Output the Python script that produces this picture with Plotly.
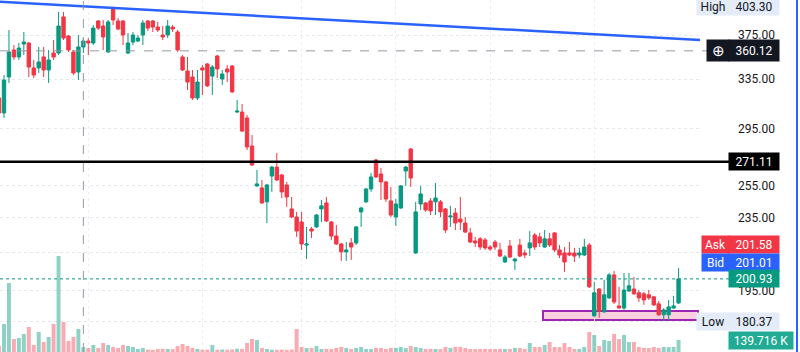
import math
import plotly.graph_objects as go

# ---------------- data ----------------
bar_index = list(range(-1, 137))

open_ = [319.2, 307.2, 336.8, 360.9, 354.5, 366.4, 367.4, 344.7, 344.7, 354.5,
         342.9, 358.1, 358.1, 392.7, 374.0, 359.1, 341.1, 363.7, 369.3, 367.4,
         388.7, 383.7, 359.1, 401.8, 388.7, 388.7, 358.1, 368.3, 369.3, 375.0,
         388.7, 388.7, 382.7, 375.0, 375.0, 382.7, 377.9, 354.5, 342.0, 336.8,
         319.2, 344.7, 348.2, 337.6, 355.4, 335.1, 343.8, 346.4, 307.9, 307.9,
         303.3, 282.3, 254.9, 253.6, 244.7, 261.4, 267.5, 262.1, 255.5, 240.3,
         235.4, 232.4, 219.1, 228.3, 229.5, 240.3, 244.0, 232.4, 224.2, 219.7,
         215.3, 220.3, 220.3, 238.5, 244.7, 252.9, 272.4, 262.8, 257.5, 245.3,
         235.4, 240.9, 264.8, 280.1, 214.7, 243.4, 244.0, 245.3, 244.7, 244.7,
         240.3, 235.4, 237.8, 234.2, 231.8, 226.0, 221.4, 222.6, 222.0, 218.0,
         220.8, 216.4, 209.8, 218.6, 210.4, 219.1, 214.7, 217.5, 224.8, 223.7,
         218.0, 222.6, 226.0, 216.4, 214.7, 214.7, 214.7, 213.6, 213.6, 219.1,
         182.8, 195.8, 184.7, 191.4, 203.0, 187.5, 186.5, 194.8, 195.8, 193.9,
         193.4, 192.9, 191.9, 188.5, 183.3, 183.3, 186.5, 188.9]

high = [325.8, 338.5, 379.8, 365.5, 367.4, 377.9, 368.3, 351.8, 363.7, 363.7,
        360.9, 370.2, 397.8, 397.8, 375.0, 360.9, 375.0, 372.1, 372.1, 384.7,
        389.7, 389.7, 389.7, 403.3, 391.7, 389.7, 376.9, 377.9, 375.0, 389.7,
        389.7, 389.7, 387.7, 383.7, 389.7, 384.7, 379.8, 356.3, 354.5, 342.9,
        342.9, 347.3, 349.1, 347.3, 356.3, 342.9, 347.3, 347.3, 317.6, 314.3,
        305.6, 290.3, 265.5, 258.8, 256.2, 268.2, 277.3, 262.8, 257.5, 247.8,
        238.5, 238.5, 229.5, 229.5, 237.2, 245.9, 247.8, 233.0, 230.7, 220.3,
        220.8, 223.1, 230.1, 241.6, 253.6, 263.5, 273.1, 266.9, 258.1, 254.2,
        246.5, 255.5, 268.2, 280.8, 244.7, 254.9, 244.7, 247.1, 256.8, 245.9,
        240.9, 242.2, 240.9, 247.8, 235.4, 228.9, 223.7, 223.7, 223.1, 219.1,
        222.0, 220.3, 213.6, 222.0, 211.9, 222.6, 216.4, 227.1, 226.0, 226.0,
        227.7, 226.0, 226.5, 219.1, 218.0, 220.8, 217.5, 217.5, 222.6, 220.3,
        199.4, 196.3, 200.4, 204.0, 205.1, 196.9, 204.0, 204.0, 202.0, 195.3,
        194.3, 195.3, 192.4, 189.9, 186.5, 190.4, 192.4, 206.6]

low = [303.3, 303.3, 331.7, 351.8, 351.8, 356.3, 336.8, 335.9, 340.3, 336.8,
       331.7, 351.8, 356.3, 370.2, 359.1, 338.5, 334.2, 358.1, 356.3, 365.5,
       379.8, 360.9, 358.1, 384.7, 379.8, 365.5, 357.2, 365.5, 368.3, 365.5,
       378.8, 377.9, 377.9, 370.2, 372.1, 377.9, 359.1, 342.0, 325.8, 317.6,
       317.6, 321.7, 328.3, 321.7, 335.9, 330.0, 332.5, 323.3, 307.2, 292.6,
       279.4, 268.2, 254.2, 243.4, 231.8, 251.0, 258.1, 247.1, 241.6, 234.8,
       223.7, 216.4, 211.4, 223.1, 228.9, 232.4, 232.4, 222.0, 219.1, 210.4,
       210.4, 210.9, 219.1, 229.5, 244.0, 251.0, 260.1, 245.9, 244.7, 235.4,
       230.1, 240.3, 254.9, 254.2, 214.2, 239.7, 238.5, 236.6, 236.6, 235.4,
       226.0, 229.5, 227.7, 227.7, 226.0, 220.3, 218.0, 216.4, 216.4, 215.8,
       216.4, 212.5, 209.3, 211.9, 205.6, 212.5, 211.9, 213.0, 216.4, 218.0,
       217.5, 218.0, 215.3, 211.9, 204.6, 213.0, 209.8, 211.9, 213.0, 196.3,
       182.4, 181.9, 184.2, 190.9, 188.5, 186.1, 185.6, 194.3, 192.9, 189.4,
       188.0, 190.4, 187.5, 182.8, 180.37, 180.9, 186.1, 188.5]

close = [307.2, 334.2, 359.1, 354.5, 362.7, 368.3, 345.5, 338.5, 350.0, 342.9,
         351.8, 354.5, 383.7, 372.1, 360.9, 340.3, 363.7, 369.3, 367.4, 381.7,
         381.7, 373.1, 387.7, 389.7, 380.8, 375.0, 367.4, 375.0, 372.1, 386.7,
         381.7, 382.7, 379.8, 373.1, 383.7, 380.8, 360.9, 342.9, 332.5, 319.2,
         332.5, 342.9, 329.2, 345.5, 343.8, 339.4, 341.1, 324.2, 308.7, 293.3,
         281.6, 268.9, 256.2, 244.0, 255.5, 267.5, 258.8, 251.0, 247.8, 235.4,
         227.1, 219.7, 219.7, 227.1, 236.6, 242.2, 233.0, 224.2, 219.7, 215.3,
         216.4, 218.0, 229.5, 240.9, 252.9, 260.8, 260.8, 257.5, 246.5, 236.6,
         243.4, 254.9, 267.5, 260.1, 238.5, 249.7, 239.7, 239.1, 247.1, 238.5,
         227.7, 236.0, 231.8, 232.4, 226.5, 220.8, 220.3, 218.0, 217.5, 216.9,
         218.0, 213.0, 212.5, 212.5, 211.4, 213.0, 213.6, 220.3, 218.0, 220.3,
         222.6, 219.1, 216.4, 213.6, 209.8, 213.6, 213.0, 214.7, 218.0, 196.9,
         193.9, 185.1, 192.9, 203.0, 189.4, 186.5, 195.3, 197.4, 193.4, 191.4,
         190.4, 191.4, 188.0, 183.3, 185.6, 187.0, 187.5, 200.93]

volume_k = [70, 326, 803, 151, 163, 210, 291, 82, 233, 116,
            175, 326, 1118, 349, 128, 175, 268, 58, 47, 82,
            47, 105, 82, 58, 47, 82, 70, 58, 35, 47,
            28, 26, 35, 38, 35, 33, 70, 93, 70, 47,
            35, 27, 28, 82, 26, 29, 27, 30, 38, 36,
            105, 151, 140, 47, 35, 27, 26, 28, 25, 29,
            268, 58, 47, 46, 70, 35, 36, 35, 47, 58,
            47, 35, 47, 58, 35, 34, 47, 46, 35, 47,
            48, 58, 47, 70, 58, 47, 35, 36, 35, 34,
            58, 47, 58, 60, 47, 35, 34, 36, 35, 33,
            35, 36, 34, 35, 47, 46, 35, 105, 58, 58,
            82, 116, 58, 57, 105, 58, 35, 36, 58, 233,
            198, 70, 140, 128, 210, 151, 198, 116, 116, 58,
            47, 46, 58, 47, 58, 57, 58, 139.716]

price_ticks = [375, 335, 295, 255, 235, 215, 195, 180]
price_tick_text = ["375.00", "335.00", "295.00", "255.00", "235.00", "", "195.00", ""]
month_bars = [17, 40, 60, 79, 98, 119]

trend_x = [-0.806, 140.32]
trend_y = [408.3, 370.2]

resistance = 271.11
cross_price = 360.12
cross_bar = 16
last_price = 200.93
ask_price = 201.58
bid_price = 201.01
high_price = 403.30
low_price = 180.37
last_volume_k = 139.716
zone_x = [108.67, 139.92]
zone_y = [180.9, 185.1]

# ---------------- styling ----------------
GREEN = "#089981"
RED = "#f23645"
BLUE = "#2962ff"
DARK = "#131722"
PALE = "#e3ecf8"
FONT = "Roboto"

x_range = [-0.806, 140.32]
y_range = [2.221809, 2.612920]
PLOT_W = 700.0

vol_colors = ["rgba(8,153,129,0.45)" if c >= o else "rgba(242,54,69,0.42)"
              for o, c in zip(open_, close)]

fig = go.Figure()

fig.add_trace(go.Bar(
    x=bar_index, y=volume_k, marker=dict(color=vol_colors, line=dict(width=0)),
    width=0.8, yaxis="y2", hoverinfo="skip"))

fig.add_trace(go.Candlestick(
    x=bar_index, open=open_, high=high, low=low, close=close,
    increasing=dict(line=dict(color=GREEN, width=1), fillcolor=GREEN),
    decreasing=dict(line=dict(color=RED, width=1), fillcolor=RED),
    whiskerwidth=0, hoverinfo="skip"))

fig.add_trace(go.Scatter(
    x=trend_x, y=trend_y, mode="lines",
    line=dict(color=BLUE, width=2.5), hoverinfo="skip"))


def px_x(p):
    return p / PLOT_W


shapes = [
    dict(type="rect", xref="x", yref="y", x0=zone_x[0], x1=zone_x[1],
         y0=zone_y[0], y1=zone_y[1], line=dict(color="#9c27b0", width=2),
         fillcolor="rgba(240,98,146,0.30)", layer="below"),
    dict(type="line", xref="paper", yref="y", x0=0, x1=px_x(729),
         y0=resistance, y1=resistance, line=dict(color="#000000", width=2.5)),
    dict(type="line", xref="paper", yref="y", x0=0, x1=px_x(707),
         y0=cross_price, y1=cross_price,
         line=dict(color="#9598a1", width=1, dash="dash")),
    dict(type="line", xref="x", yref="paper", x0=cross_bar, x1=cross_bar,
         y0=0, y1=1, line=dict(color="#9598a1", width=1, dash="dash")),
    dict(type="line", xref="paper", yref="y", x0=0, x1=px_x(729),
         y0=last_price, y1=last_price,
         line=dict(color=GREEN, width=1, dash="dot")),
    dict(type="line", xref="paper", yref="paper", x0=px_x(797), x1=px_x(797),
         y0=0, y1=1, line=dict(color=BLUE, width=2)),
]

PRICE_X = px_x(754)


def label(text, x, y, yref, bg, width, fg="#ffffff", height=17, size=12):
    return dict(text=text, x=x, y=y, xref="paper", yref=yref,
                xanchor="center", yanchor="middle", showarrow=False,
                bgcolor=bg, width=width, height=height, borderpad=0,
                font=dict(family=FONT, size=size, color=fg))


annotations = [
    label("High", px_x(713), math.log10(high_price), "y", PALE, 32, fg=DARK, height=16),
    label(f"{high_price:.2f}", PRICE_X, math.log10(high_price), "y", PALE, 50, fg=DARK, height=16),
    label("⊕", px_x(718), math.log10(cross_price), "y", DARK, 22, height=21, size=15),
    label(f"{cross_price:.2f}", PRICE_X, math.log10(cross_price), "y", DARK, 50, height=21),
    label(f"{resistance:.2f}", PRICE_X, math.log10(resistance), "y", "#000000", 50),
    label("Ask", px_x(715.5), 1 - 244 / 352, "paper", RED, 27),
    label(f"{ask_price:.2f}", PRICE_X, 1 - 244 / 352, "paper", RED, 50),
    label("Bid", px_x(715.5), 1 - 262 / 352, "paper", BLUE, 27),
    label(f"{bid_price:.2f}", PRICE_X, 1 - 262 / 352, "paper", BLUE, 50),
    label(f"{last_price:.2f}", PRICE_X, math.log10(last_price), "y", GREEN, 50),
    label("Low", px_x(713), math.log10(low_price), "y", PALE, 32, fg=DARK),
    label(f"{low_price:.2f}", PRICE_X, math.log10(low_price), "y", PALE, 50, fg=DARK),
    label(f"{last_volume_k:.3f} K", px_x(761), last_volume_k, "y2", "#22ab94", 64),
]

fig.update_layout(
    width=800, height=352,
    margin=dict(l=0, r=100, t=0, b=0),
    paper_bgcolor="#ffffff", plot_bgcolor="#ffffff",
    showlegend=False, boxgap=0.15, boxgroupgap=0.2,
    font=dict(family=FONT, size=12, color=DARK),
    xaxis=dict(range=x_range, tickmode="array", tickvals=month_bars,
               showticklabels=False, ticks="", showgrid=True,
               gridcolor="#eceef3", griddash="dot", gridwidth=1,
               zeroline=False, showline=False, rangeslider=dict(visible=False),
               fixedrange=True),
    yaxis=dict(type="log", range=y_range, side="right", tickmode="array",
               tickvals=price_ticks, ticktext=price_tick_text, ticks="",
               ticklabelstandoff=37, showgrid=True, gridcolor="#e6e8ee",
               griddash="dot", gridwidth=1, zeroline=False, showline=False,
               tickfont=dict(family=FONT, size=12, color=DARK)),
    yaxis2=dict(overlaying="y", range=[0, 4098], visible=False,
                showgrid=False, zeroline=False),
    shapes=shapes, annotations=annotations,
)

fig.write_html("out.html")
